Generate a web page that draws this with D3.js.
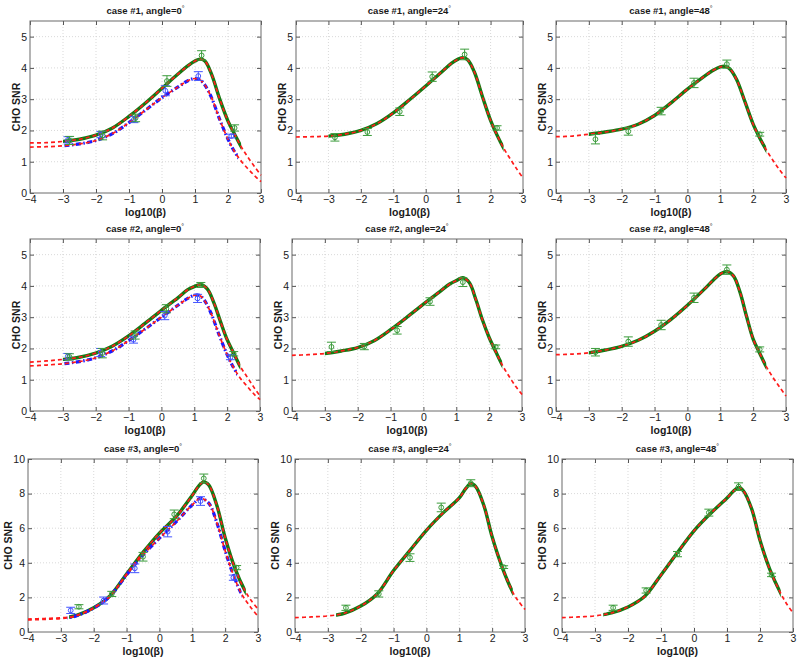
<!DOCTYPE html>
<html><head><meta charset="utf-8">
<script src="https://cdn.jsdelivr.net/npm/d3@7"></script>
<style>
body{margin:0;background:#fff}
text{font-family:Arial,"Liberation Sans",Helvetica,sans-serif;fill:#1a1a1a}
</style>
</head><body><svg id="c" width="800" height="658"></svg>
<script>
// ---------------- DATA ----------------
const xTicks = [-4,-3,-2,-1,0,1,2,3];
const yTicksSmall = [0,1,2,3,4,5];
const yTicksLarge = [0,2,4,6,8,10];
const caseNames = ["1","1","1","2","2","2","3","3","3"];
const angles = ["0","24","48","0","24","48","0","24","48"];

// case #1, angle 0
const c1a0_model1 = [[-4,1.60],[-3.5,1.61],[-3,1.65],[-2.5,1.72],[-2,1.85],[-1.5,2.08],[-1,2.45],[-0.5,2.88],[0,3.35],[0.5,3.82],[0.8,4.08],[1.0,4.22],[1.15,4.28],[1.3,4.22],[1.5,3.8],[1.75,3.0],[2.0,2.3],[2.2,1.88],[2.4,1.48],[2.6,1.15],[2.8,0.85],[3.0,0.57]];
const c1a0_model2 = [[-4,1.47],[-3.5,1.48],[-3,1.51],[-2.5,1.57],[-2,1.68],[-1.5,1.9],[-1,2.25],[-0.5,2.65],[0,3.05],[0.5,3.4],[0.8,3.6],[1.0,3.66],[1.15,3.62],[1.3,3.45],[1.5,3.05],[1.75,2.35],[2.0,1.72],[2.2,1.32],[2.4,1.02],[2.6,0.78],[2.8,0.56],[3.0,0.36]];
const c1a0_gErr = [[-2.8,1.68,0.13],[-1.8,1.84,0.14],[-0.8,2.4,0.12],[0.15,3.58,0.17],[1.2,4.4,0.15],[2.2,2.08,0.1]];
const c1a0_bErr = [[-2.85,1.7,0.1],[-1.85,1.87,0.1],[-0.85,2.35,0.1],[0.1,3.27,0.16],[1.1,3.74,0.14],[2.1,1.82,0.06]];
// case #1, angle 24
const c1a24_model1 = [[-4,1.79],[-3.5,1.8],[-3,1.82],[-2.5,1.88],[-2,2.0],[-1.5,2.22],[-1,2.56],[-0.5,2.98],[0,3.42],[0.5,3.88],[0.8,4.15],[1.0,4.28],[1.15,4.33],[1.3,4.25],[1.5,3.87],[1.75,3.08],[2.0,2.32],[2.2,1.85],[2.4,1.44],[2.6,1.1],[2.8,0.78],[3.0,0.48]];
const c1a24_gErr = [[-2.8,1.78,0.12],[-1.8,1.95,0.11],[-0.8,2.6,0.12],[0.2,3.72,0.15],[1.2,4.43,0.17],[2.2,2.08,0.07]];
// case #1, angle 48
const c1a48_model1 = [[-4,1.8],[-3.5,1.82],[-3,1.88],[-2.5,1.95],[-2,2.04],[-1.5,2.2],[-1,2.48],[-0.5,2.88],[0,3.32],[0.5,3.72],[0.8,3.93],[1.0,4.03],[1.15,4.05],[1.3,3.96],[1.5,3.62],[1.75,2.92],[2.0,2.2],[2.2,1.76],[2.4,1.38],[2.6,1.05],[2.8,0.75],[3.0,0.48]];
const c1a48_gErr = [[-2.8,1.72,0.15],[-1.8,1.97,0.12],[-0.8,2.62,0.12],[0.2,3.52,0.15],[1.2,4.12,0.13],[2.2,1.88,0.06]];
// case #2, angle 0
const c2a0_model1 = [[-4,1.56],[-3.5,1.6],[-3,1.65],[-2.5,1.72],[-2,1.85],[-1.5,2.07],[-1,2.4],[-0.5,2.8],[0,3.22],[0.5,3.62],[0.8,3.88],[1.0,3.98],[1.2,4.04],[1.4,3.9],[1.6,3.45],[1.8,2.85],[2.0,2.28],[2.2,1.85],[2.4,1.42],[2.6,1.1],[2.8,0.78],[3.0,0.48]];
const c2a0_model2 = [[-4,1.44],[-3.5,1.47],[-3,1.51],[-2.5,1.58],[-2,1.7],[-1.5,1.92],[-1,2.25],[-0.5,2.62],[0,3.0],[0.5,3.38],[0.8,3.6],[1.0,3.7],[1.15,3.7],[1.3,3.55],[1.5,3.15],[1.75,2.45],[2.0,1.8],[2.2,1.38],[2.4,1.05],[2.6,0.8],[2.8,0.56],[3.0,0.36]];
const c2a0_gErr = [[-2.8,1.73,0.1],[-1.8,1.85,0.15],[-0.8,2.43,0.13],[0.15,3.27,0.13],[1.2,4.03,0.08],[2.2,1.83,0.07]];
const c2a0_bErr = [[-2.85,1.74,0.1],[-1.85,1.87,0.13],[-0.85,2.28,0.11],[0.1,3.05,0.13],[1.1,3.6,0.13],[2.1,1.72,0.08]];
// case #2, angle 24
const c2a24_model1 = [[-4,1.78],[-3.5,1.8],[-3,1.84],[-2.5,1.92],[-2,2.03],[-1.5,2.25],[-1,2.6],[-0.5,3.0],[0,3.42],[0.5,3.82],[0.8,4.06],[1.0,4.17],[1.2,4.26],[1.4,4.1],[1.6,3.55],[1.8,2.9],[2.0,2.35],[2.2,1.9],[2.4,1.47],[2.6,1.12],[2.8,0.8],[3.0,0.53]];
const c2a24_gErr = [[-2.8,2.05,0.15],[-1.8,2.06,0.1],[-0.8,2.58,0.12],[0.2,3.5,0.12],[1.2,4.12,0.14],[2.2,2.05,0.06]];
// case #2, angle 48
const c2a48_model1 = [[-4,1.8],[-3.5,1.82],[-3,1.86],[-2.5,1.95],[-2,2.07],[-1.5,2.26],[-1,2.55],[-0.5,2.93],[0,3.38],[0.5,3.88],[0.8,4.2],[1.0,4.38],[1.2,4.46],[1.4,4.32],[1.6,3.8],[1.8,3.02],[2.0,2.3],[2.2,1.85],[2.4,1.42],[2.6,1.08],[2.8,0.77],[3.0,0.48]];
const c2a48_gErr = [[-2.8,1.88,0.12],[-1.8,2.22,0.15],[-0.8,2.75,0.15],[0.2,3.62,0.15],[1.2,4.52,0.15],[2.2,1.97,0.08]];
// case #3, angle 0
const c3a0_model1 = [[-4,0.75],[-3.5,0.78],[-3,0.82],[-2.7,0.88],[-2.5,0.97],[-2,1.4],[-1.5,2.1],[-1,3.35],[-0.5,4.6],[0,5.72],[0.5,6.65],[1.0,7.9],[1.2,8.45],[1.35,8.68],[1.5,8.5],[1.75,7.3],[2.0,5.45],[2.3,3.68],[2.6,2.4],[2.8,1.8],[3.0,1.33]];
const c3a0_model2 = [[-4,0.7],[-3.5,0.73],[-3,0.78],[-2.7,0.85],[-2.5,0.95],[-2,1.38],[-1.5,2.08],[-1,3.3],[-0.5,4.45],[0,5.42],[0.5,6.35],[1.0,7.35],[1.25,7.72],[1.5,7.45],[1.75,6.3],[2.0,4.7],[2.25,3.3],[2.5,2.2],[2.75,1.5],[3.0,0.9]];
const c3a0_gErr = [[-2.45,1.46,0.12],[-1.45,2.2,0.15],[-0.5,4.35,0.25],[0.45,6.8,0.25],[1.35,8.88,0.25],[2.35,3.72,0.12]];
const c3a0_bErr = [[-2.7,1.25,0.18],[-1.7,1.82,0.2],[-0.75,3.68,0.25],[0.25,5.8,0.3],[1.25,7.57,0.25],[2.25,3.14,0.15]];
// case #3, angle 24
const c3a24_model1 = [[-4,0.83],[-3.5,0.87],[-3,0.93],[-2.7,1.0],[-2.5,1.08],[-2,1.5],[-1.5,2.2],[-1,3.55],[-0.5,4.72],[0,5.88],[0.5,6.87],[1.0,7.75],[1.2,8.3],[1.35,8.58],[1.5,8.4],[1.75,7.3],[2.0,5.5],[2.3,3.77],[2.65,2.22],[2.8,1.78],[3.0,1.3]];
const c3a24_gErr = [[-2.45,1.4,0.15],[-1.45,2.2,0.18],[-0.5,4.3,0.22],[0.45,7.2,0.25],[1.35,8.6,0.2],[2.35,3.75,0.08]];
// case #3, angle 48
const c3a48_model1 = [[-4,0.83],[-3.5,0.87],[-3,0.93],[-2.7,1.02],[-2.5,1.1],[-2,1.45],[-1.5,2.05],[-1,3.3],[-0.5,4.6],[0,5.85],[0.5,6.85],[1.0,7.75],[1.2,8.15],[1.35,8.35],[1.5,8.15],[1.75,7.1],[2.0,5.3],[2.3,3.6],[2.65,2.15],[2.8,1.65],[3.0,1.1]];
const c3a48_gErr = [[-2.45,1.4,0.15],[-1.45,2.4,0.15],[-0.5,4.5,0.15],[0.45,6.9,0.2],[1.35,8.4,0.22],[2.35,3.3,0.1]];

// x-extent of the simulated (solid green / dash-dot blue) curves
const greenRange12 = [-3, 2.4];
const blueRange12 = [-3, 2.3];
const greenRange3 = [-2.75, 2.63];
const blueRange3 = [-2.8, 2.5];

const panels = [
  {m1:c1a0_model1, m2:c1a0_model2, gErr:c1a0_gErr, bErr:c1a0_bErr, ymax:5.5, yt:yTicksSmall, gr:greenRange12, br:blueRange12},
  {m1:c1a24_model1, gErr:c1a24_gErr, ymax:5.5, yt:yTicksSmall, gr:greenRange12},
  {m1:c1a48_model1, gErr:c1a48_gErr, ymax:5.5, yt:yTicksSmall, gr:greenRange12},
  {m1:c2a0_model1, m2:c2a0_model2, gErr:c2a0_gErr, bErr:c2a0_bErr, ymax:5.5, yt:yTicksSmall, gr:greenRange12, br:blueRange12},
  {m1:c2a24_model1, gErr:c2a24_gErr, ymax:5.5, yt:yTicksSmall, gr:greenRange12},
  {m1:c2a48_model1, gErr:c2a48_gErr, ymax:5.5, yt:yTicksSmall, gr:greenRange12},
  {m1:c3a0_model1, m2:c3a0_model2, gErr:c3a0_gErr, bErr:c3a0_bErr, ymax:10, yt:yTicksLarge, gr:greenRange3, br:blueRange3},
  {m1:c3a24_model1, gErr:c3a24_gErr, ymax:10, yt:yTicksLarge, gr:greenRange3},
  {m1:c3a48_model1, gErr:c3a48_gErr, ymax:10, yt:yTicksLarge, gr:greenRange3}
];

// ---------------- LAYOUT ----------------
const boxes = [
  {l:30,r:261,t:21,b:193},{l:296,r:523,t:21,b:193},{l:556,r:786,t:21,b:193},
  {l:30,r:260,t:239,b:411},{l:292,r:522,t:239,b:411},{l:556,r:786,t:239,b:411},
  {l:28,r:258,t:459,b:632},{l:295,r:525,t:459,b:632},{l:562,r:793,t:459,b:632}
];

const GREEN = "#137a13", RED = "#ff1a1a", BLUE = "#1a1aff";
const GREEN_EB = "#3c9c3c", BLUE_EB = "#4455ff";
const fmt = d => d < 0 ? "\u2212" + Math.abs(d) : String(d);

const svg = d3.select("#c");
const defs = svg.append("defs");

panels.forEach((p, i) => {
  const B = boxes[i];
  const row = Math.floor(i / 3);
  const x = d3.scaleLinear().domain([-4, 3]).range([B.l, B.r]);
  const y = d3.scaleLinear().domain([0, p.ymax]).range([B.b, B.t]);
  const g = svg.append("g");

  // grid
  g.append("g").selectAll("line").data(xTicks.slice(1, -1)).join("line")
    .attr("x1", d => x(d)).attr("x2", d => x(d)).attr("y1", B.t).attr("y2", B.b)
    .attr("stroke", "#cfcfcf").attr("stroke-width", 0.8).attr("stroke-dasharray", "1,2");
  g.append("g").selectAll("line").data(p.yt.filter(v => v > 0 && v < p.ymax)).join("line")
    .attr("x1", B.l).attr("x2", B.r).attr("y1", d => y(d)).attr("y2", d => y(d))
    .attr("stroke", "#cfcfcf").attr("stroke-width", 0.8).attr("stroke-dasharray", "1,2");

  // axes
  const styleAxis = sel => {
    sel.select(".domain").remove();
    sel.selectAll(".tick line").attr("stroke", "#555");
    sel.selectAll(".tick text").attr("font-size", 10.5).attr("fill", "#1a1a1a")
      .style("font-family", "Arial, 'Liberation Sans', sans-serif");
  };
  g.append("g").attr("transform", `translate(0,${B.b})`)
    .call(d3.axisBottom(x).tickValues(xTicks).tickSize(-4).tickPadding(3).tickFormat(fmt)).call(styleAxis);
  g.append("g").attr("transform", `translate(0,${B.t})`)
    .call(d3.axisTop(x).tickValues(xTicks).tickSize(-4).tickFormat("")).call(styleAxis);
  g.append("g").attr("transform", `translate(${B.l},0)`)
    .call(d3.axisLeft(y).tickValues(p.yt).tickSize(-4).tickPadding(3).tickFormat(fmt)).call(styleAxis);
  g.append("g").attr("transform", `translate(${B.r},0)`)
    .call(d3.axisRight(y).tickValues(p.yt).tickSize(-4).tickFormat("")).call(styleAxis);

  g.append("rect").attr("x", B.l).attr("y", B.t).attr("width", B.r - B.l).attr("height", B.b - B.t)
    .attr("fill", "none").attr("stroke", "#6a6a6a").attr("stroke-width", 1);

  // clips for simulated curves
  const gid = "gclip" + i, bid = "bclip" + i;
  defs.append("clipPath").attr("id", gid).append("rect")
    .attr("x", x(p.gr[0])).attr("width", x(p.gr[1]) - x(p.gr[0])).attr("y", 0).attr("height", 658);
  if (p.br) defs.append("clipPath").attr("id", bid).append("rect")
    .attr("x", x(p.br[0])).attr("width", x(p.br[1]) - x(p.br[0])).attr("y", 0).attr("height", 658);

  const line = d3.line().x(d => x(d[0])).y(d => y(d[1])).curve(d3.curveCatmullRom.alpha(0.5));

  // green solid
  g.append("path").attr("d", line(p.m1)).attr("clip-path", `url(#${gid})`)
    .attr("fill", "none").attr("stroke", GREEN).attr("stroke-width", 3.4);
  // blue dash-dot
  if (p.m2) {
    g.append("path").attr("d", line(p.m2)).attr("clip-path", `url(#${bid})`)
      .attr("fill", "none").attr("stroke", BLUE).attr("stroke-width", 3.2)
      .attr("stroke-dasharray", "5,2.5,1.5,2.5");
  }
  // red dashed models
  [p.m1, p.m2].filter(Boolean).forEach(m => {
    g.append("path").attr("d", line(m)).attr("fill", "none")
      .attr("stroke", RED).attr("stroke-width", 1.7).attr("stroke-dasharray", "4,3");
  });

  // error bars
  const drawErr = (data, col) => {
    const eg = g.append("g").attr("stroke", col).attr("fill", "none").attr("stroke-width", 1);
    data.forEach(d => {
      const cx = x(d[0]), y0 = y(d[1] - d[2]), y1 = y(d[1] + d[2]);
      eg.append("line").attr("x1", cx).attr("x2", cx).attr("y1", y0).attr("y2", y1);
      eg.append("line").attr("x1", cx - 4.5).attr("x2", cx + 4.5).attr("y1", y0).attr("y2", y0);
      eg.append("line").attr("x1", cx - 4.5).attr("x2", cx + 4.5).attr("y1", y1).attr("y2", y1);
      eg.append("circle").attr("cx", cx).attr("cy", y(d[1])).attr("r", 2.4);
    });
  };
  if (p.bErr) drawErr(p.bErr, BLUE_EB);
  drawErr(p.gErr, GREEN_EB);

  // title
  const t = g.append("text").attr("x", (B.l + B.r) / 2).attr("y", B.t - 7)
    .attr("text-anchor", "middle").attr("font-size", 9.5).attr("font-weight", "bold");
  t.append("tspan").text(`case #${caseNames[i]}, angle=${angles[i]}`);
  t.append("tspan").attr("font-size", 7).attr("font-weight", "normal").attr("dy", -3).text("°");

  // x label
  g.append("text").attr("x", (B.l + B.r) / 2).attr("y", B.b + 23)
    .attr("text-anchor", "middle").attr("font-size", 10.5).attr("font-weight", "bold").text("log10(β)");
  // y label
  const lx = row === 2 ? B.l - 20 : B.l - 14;
  g.append("text").attr("transform", `translate(${lx},${(B.t + B.b) / 2}) rotate(-90)`)
    .attr("text-anchor", "middle").attr("dy", "0.35em")
    .attr("font-size", 10.5).attr("font-weight", "bold").text("CHO SNR");
});
</script>
</body></html>
